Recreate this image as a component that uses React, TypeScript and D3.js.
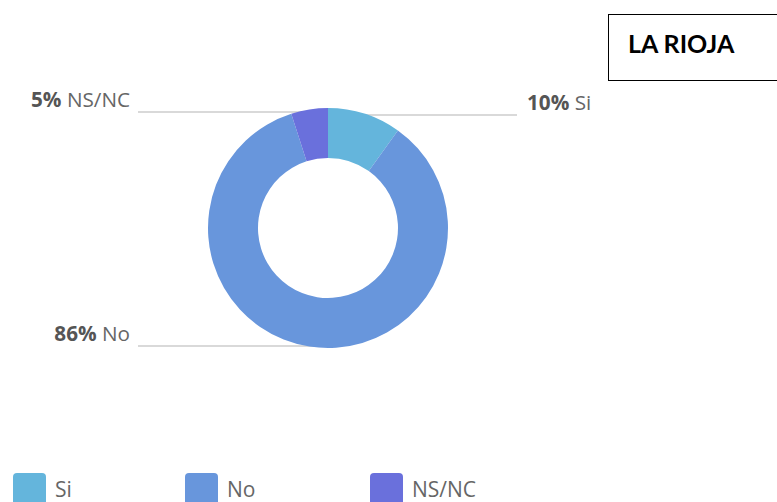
import React from "react";
import * as d3 from "d3";

const categories = ["Si", "No", "NS/NC"];
const values = [10, 86, 5];
const colors = ["#64b5dc", "#6896dc", "#6a70dc"];
const title = "LA RIOJA";

const W = 777;
const H = 502;

export default function App() {
  const cx = 328;
  const cy = 228;
  const outerR = 120;
  const innerR = 70;
  const pie = d3.pie<number>().sort(null).value((d) => d);
  const arcs = pie(values);
  const arcGen = d3.arc<d3.PieArcDatum<number>>().innerRadius(innerR).outerRadius(outerR);
  const pct = (v: number) => `${v}%`;

  const labels = [
    { i: 0, side: "right", ly: 115, x1: cx, x2: 517, tx: 527, ty: 110 },
    { i: 2, side: "left", ly: 112, x1: 138, x2: 310, tx: 130, ty: 107 },
    { i: 1, side: "left", ly: 346, x1: 138, x2: cx, tx: 130, ty: 341 },
  ];

  const legendX = [13, 185, 370];

  return (
    <svg
      width={W}
      height={H}
      style={{ position: "absolute", left: 0, top: 0, background: "#fff" }}
      fontFamily="'Open Sans', sans-serif"
    >
      {labels.map((l) => (
        <line key={"l" + l.i} x1={l.x1} x2={l.x2} y1={l.ly} y2={l.ly} stroke="#cccccc" strokeWidth={1.5} />
      ))}
      <g transform={`translate(${cx},${cy})`}>
        {arcs.map((a, i) => (
          <path key={i} d={arcGen(a) || ""} fill={colors[i]} />
        ))}
      </g>
      {labels.map((l) => (
        <text
          key={"t" + l.i}
          x={l.tx}
          y={l.ty}
          fontSize={20.7}
          textAnchor={l.side === "left" ? "end" : "start"}
          fill="#666"
        >
          <tspan fontWeight="bold" fill="#555">{pct(values[l.i])}</tspan>
          <tspan> {categories[l.i]}</tspan>
        </text>
      ))}
      <rect x={608.5} y={14.5} width={200} height={66} fill="#fff" stroke="#000" strokeWidth={1} />
      <text x={628} y={53} fontSize={25} fontWeight="bold" fontFamily="Lato, 'Open Sans', sans-serif" fill="#000">
        {title}
      </text>
      {categories.map((c, i) => (
        <g key={c}>
          <rect x={legendX[i]} y={473} width={33} height={40} rx={4} fill={colors[i]} />
          <text x={legendX[i] + 42} y={497} fontSize={21} fill="#666">
            {c}
          </text>
        </g>
      ))}
    </svg>
  );
}
